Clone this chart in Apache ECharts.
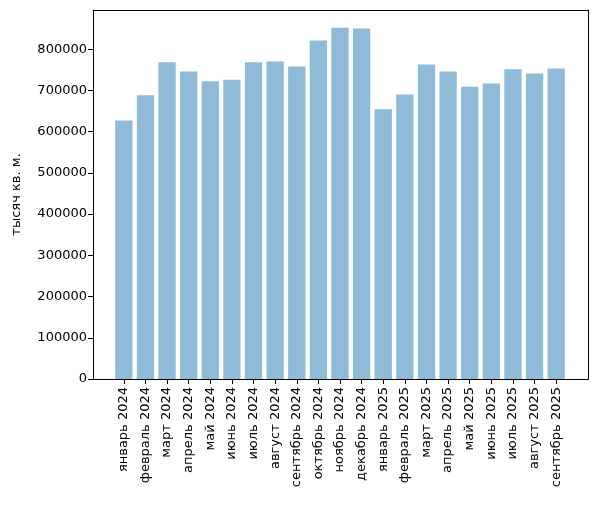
<!DOCTYPE html>
<html>
<head>
    <meta http-equiv="Content-Type" content="text/html; charset=utf-8" />
    <title>тысяч кв. м.</title>
    <style>
        html, body { margin: 0; padding: 0; background: #fff; }
        #main { width: 598px; height: 506px; }
    </style>
</head>
<body>
    <div id="main"></div>
    <script src="https://cdn.jsdelivr.net/npm/echarts@6/dist/echarts.min.js"></script>
    <script type="text/javascript">
        var months = [
            'январь 2024', 'февраль 2024', 'март 2024', 'апрель 2024', 'май 2024',
            'июнь 2024', 'июль 2024', 'август 2024', 'сентябрь 2024', 'октябрь 2024',
            'ноябрь 2024', 'декабрь 2024', 'январь 2025', 'февраль 2025', 'март 2025',
            'апрель 2025', 'май 2025', 'июнь 2025', 'июль 2025', 'август 2025', 'сентябрь 2025'
        ];
        var area = [
            627000, 688000, 768000, 746000, 722000,
            726000, 768000, 770000, 758000, 821000,
            852000, 850000, 654000, 690000, 763000,
            746000, 709000, 717000, 751000, 741000, 753000
        ];
        var yTicks = [0, 100000, 200000, 300000, 400000, 500000, 600000, 700000, 800000];

        var yMax = 895000;
        var font = 'DejaVu Sans';
        var black = { color: '#000', width: 1 };

        // grid 0 = frame + y axis, grid 1 = bars (narrower, like matplotlib margins)
        var option = {
            animation: false,
            textStyle: { fontFamily: font },
            grid: [
                { left: 93, right: 10, top: 10, bottom: 127 },
                { left: 113, right: 31, top: 10, bottom: 127 }
            ],
            xAxis: [
                { gridIndex: 0, type: 'value', min: 0, max: 1, position: 'top',
                  axisLine: { show: true, onZero: false, lineStyle: black },
                  axisTick: { show: false }, axisLabel: { show: false }, splitLine: { show: false } },
                { gridIndex: 0, type: 'value', min: 0, max: 1, position: 'bottom',
                  axisLine: { show: true, onZero: false, lineStyle: black },
                  axisTick: { show: false }, axisLabel: { show: false }, splitLine: { show: false } },
                {
                    gridIndex: 1,
                    type: 'category',
                    data: months,
                    axisLine: { show: false },
                    axisTick: { show: true, alignWithLabel: true, length: 5, lineStyle: black },
                    axisLabel: { rotate: 90, margin: 8, color: '#000', fontSize: 13, fontFamily: font, interval: 0 }
                }
            ],
            yAxis: [
                {
                    gridIndex: 0,
                    type: 'value',
                    position: 'left',
                    min: 0,
                    max: yMax,
                    name: 'тысяч кв. м.',
                    nameLocation: 'middle',
                    nameGap: 70,
                    nameTextStyle: { color: '#000', fontSize: 13, fontFamily: font },
                    splitLine: { show: false },
                    axisLine: { show: true, onZero: false, lineStyle: black },
                    axisTick: { show: true, length: 5, lineStyle: black, customValues: yTicks },
                    axisLabel: {
                        color: '#000', fontSize: 13, margin: 6, fontFamily: font, customValues: yTicks,
                        formatter: function (v) { return String(v); }
                    }
                },
                { gridIndex: 0, type: 'value', position: 'right', min: 0, max: 1,
                  axisLine: { show: true, onZero: false, lineStyle: black },
                  axisTick: { show: false }, axisLabel: { show: false }, splitLine: { show: false } },
                { gridIndex: 1, type: 'value', min: 0, max: yMax, show: false }
            ],
            series: [
                {
                    type: 'bar',
                    xAxisIndex: 2,
                    yAxisIndex: 2,
                    data: area,
                    barCategoryGap: '20%',
                    itemStyle: { color: '#8fbbd9' }
                }
            ]
        };

        var myChart = echarts.init(document.getElementById('main'));
        myChart.setOption(option);
    </script>
</body>
</html>
